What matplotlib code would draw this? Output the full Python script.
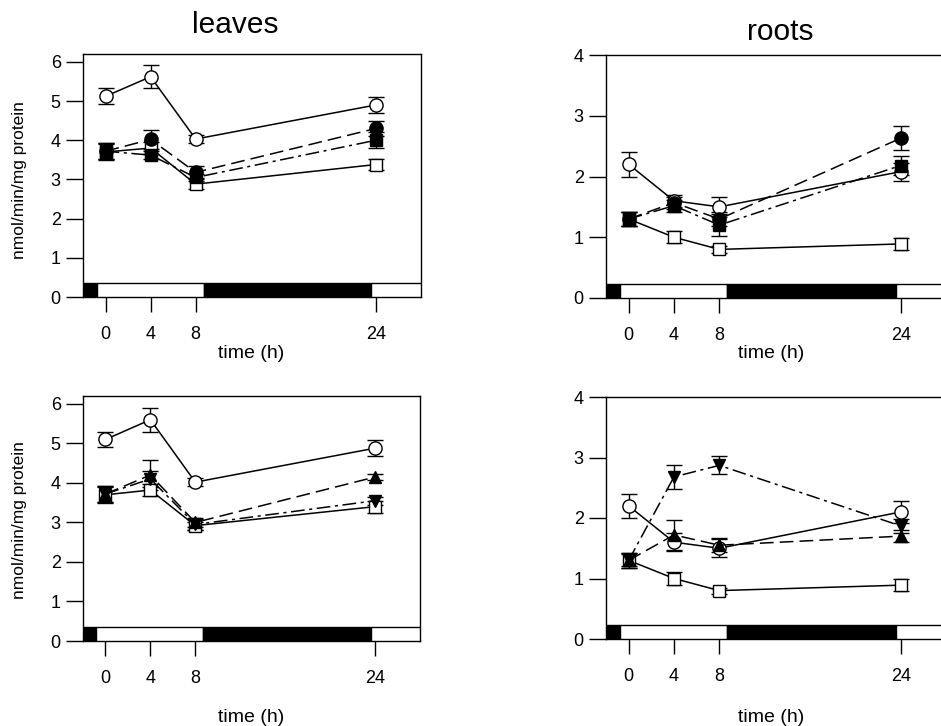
import numpy as np
import matplotlib.pyplot as plt
from matplotlib.patches import Rectangle

plt.rcParams['font.family'] = ['Liberation Sans', 'DejaVu Sans']

# ---------------- dados ----------------
time_h = [0, 4, 8, 24]

# folhas (leaves), painel de cima
leaf_open_circle = [5.12, 5.62, 4.03, 4.90]
leaf_open_circle_err = [0.20, 0.30, 0.10, 0.20]
leaf_open_square = [3.70, 3.80, 2.88, 3.38]
leaf_open_square_err = [0.20, 0.15, 0.12, 0.15]
leaf_fill_circle = [3.72, 4.02, 3.18, 4.30]
leaf_fill_circle_err = [0.20, 0.25, 0.15, 0.20]
leaf_fill_square = [3.72, 3.62, 3.05, 4.00]
leaf_fill_square_err = [0.20, 0.10, 0.10, 0.20]

# folhas, painel de baixo
leaf2_open_circle = [5.10, 5.60, 4.02, 4.88]
leaf2_open_circle_err = [0.20, 0.30, 0.10, 0.20]
leaf2_open_square = [3.70, 3.82, 2.92, 3.40]
leaf2_open_square_err = [0.20, 0.15, 0.10, 0.15]
leaf2_tri_up = [3.72, 4.20, 3.00, 4.15]
leaf2_tri_up_err = [0.20, 0.38, 0.12, 0.08]
leaf2_tri_down = [3.72, 4.10, 2.95, 3.55]
leaf2_tri_down_err = [0.20, 0.20, 0.15, 0.10]

# raizes (roots), painel de cima
root_open_circle = [2.20, 1.60, 1.50, 2.08]
root_open_circle_err = [0.20, 0.10, 0.17, 0.15]
root_open_square = [1.30, 1.00, 0.80, 0.89]
root_open_square_err = [0.12, 0.10, 0.06, 0.10]
root_fill_circle = [1.30, 1.57, 1.30, 2.63]
root_fill_circle_err = [0.12, 0.10, 0.12, 0.20]
root_fill_square = [1.30, 1.52, 1.20, 2.18]
root_fill_square_err = [0.12, 0.10, 0.18, 0.15]

# raizes, painel de baixo
root2_open_circle = [2.20, 1.60, 1.50, 2.10]
root2_open_circle_err = [0.20, 0.15, 0.15, 0.18]
root2_open_square = [1.30, 1.00, 0.80, 0.89]
root2_open_square_err = [0.10, 0.10, 0.05, 0.10]
root2_tri_up = [1.30, 1.72, 1.55, 1.70]
root2_tri_up_err = [0.12, 0.25, 0.12, 0.10]
root2_tri_down = [1.30, 2.68, 2.87, 1.87]
root2_tri_down_err = [0.12, 0.20, 0.15, 0.12]

# barra claro/escuro (inicio, fim, cor)
light_bar = [(-2, -0.8, 'k'), (-0.8, 8.7, 'w'), (8.7, 23.6, 'k'), (23.6, 28, 'w')]

W, H = 941, 726


def px_axes(fig, left, right, top, bottom):
    return fig.add_axes([left / W, 1 - bottom / H, (right - left) / W, (bottom - top) / H])


def serie(ax, y, err, marker, filled, style, ms):
    if style == 'solid':
        extra = dict(linestyle='-')
    elif style == 'dash':
        extra = dict(dashes=[9, 4])
    else:
        extra = dict(dashes=[9, 3, 2, 3])
    ax.errorbar(time_h, y, yerr=err, color='k', lw=1.1, elinewidth=1.0,
                capsize=6, capthick=1.0, marker=marker, ms=ms,
                mfc='k' if filled else 'w', mec='k', mew=1.0, **extra)


def montar(ax, ymax, yticks):
    ax.set_xlim(-2, 28)
    ax.set_ylim(0, ymax)
    ax.set_xticks(time_h)
    ax.set_yticks(yticks)
    ax.tick_params(axis='x', direction='out', length=11, pad=10, labelsize=13, width=1)
    ax.tick_params(axis='y', direction='out', length=12, pad=4, labelsize=13, width=1)
    for s in ax.spines.values():
        s.set_linewidth(1.0)
    tr = ax.get_xaxis_transform()
    for x0, x1, c in light_bar:
        ax.add_patch(Rectangle((x0, 0), x1 - x0, 0.058, transform=tr,
                               facecolor=c, edgecolor='k', lw=1.0, zorder=3))


fig = plt.figure(figsize=(W / 100, H / 100), dpi=100)

# leaves top
ax1 = px_axes(fig, 83, 421, 54, 297)
montar(ax1, 6.2, range(0, 7))
serie(ax1, leaf_open_circle, leaf_open_circle_err, 'o', False, 'solid', 9.5)
serie(ax1, leaf_open_square, leaf_open_square_err, 's', False, 'solid', 8)
serie(ax1, leaf_fill_circle, leaf_fill_circle_err, 'o', True, 'dash', 9.5)
serie(ax1, leaf_fill_square, leaf_fill_square_err, 's', True, 'dashdot', 8)

# roots top
ax2 = px_axes(fig, 606, 946, 55, 298)
montar(ax2, 4, range(0, 5))
serie(ax2, root_open_circle, root_open_circle_err, 'o', False, 'solid', 9.5)
serie(ax2, root_open_square, root_open_square_err, 's', False, 'solid', 8)
serie(ax2, root_fill_circle, root_fill_circle_err, 'o', True, 'dash', 9.5)
serie(ax2, root_fill_square, root_fill_square_err, 's', True, 'dashdot', 8)

# leaves bottom
ax3 = px_axes(fig, 83, 420, 396, 641)
montar(ax3, 6.2, range(0, 7))
serie(ax3, leaf2_open_circle, leaf2_open_circle_err, 'o', False, 'solid', 9.5)
serie(ax3, leaf2_open_square, leaf2_open_square_err, 's', False, 'solid', 8)
serie(ax3, leaf2_tri_up, leaf2_tri_up_err, '^', True, 'dash', 9)
serie(ax3, leaf2_tri_down, leaf2_tri_down_err, 'v', True, 'dashdot', 9)

# roots bottom
ax4 = px_axes(fig, 606, 946, 397, 639)
montar(ax4, 4, range(0, 5))
serie(ax4, root2_open_circle, root2_open_circle_err, 'o', False, 'solid', 9.5)
serie(ax4, root2_open_square, root2_open_square_err, 's', False, 'solid', 8)
serie(ax4, root2_tri_up, root2_tri_up_err, '^', True, 'dash', 9)
serie(ax4, root2_tri_down, root2_tri_down_err, 'v', True, 'dashdot', 9)

# textos
fig.text(235 / W, 1 - 25 / H, 'leaves', ha='center', va='center', fontsize=21.5)
fig.text(780 / W, 1 - 32 / H, 'roots', ha='center', va='center', fontsize=21.5)
for yy in (353, 717):
    fig.text(251 / W, 1 - yy / H, 'time (h)', ha='center', va='center', fontsize=14)
    fig.text(771 / W, 1 - yy / H, 'time (h)', ha='center', va='center', fontsize=14)
for yy in (180, 520):
    fig.text(20 / W, 1 - yy / H, 'nmol/min/mg protein', ha='center', va='center',
             rotation=90, fontsize=12.5)

fig.savefig('out.png', dpi=100)
